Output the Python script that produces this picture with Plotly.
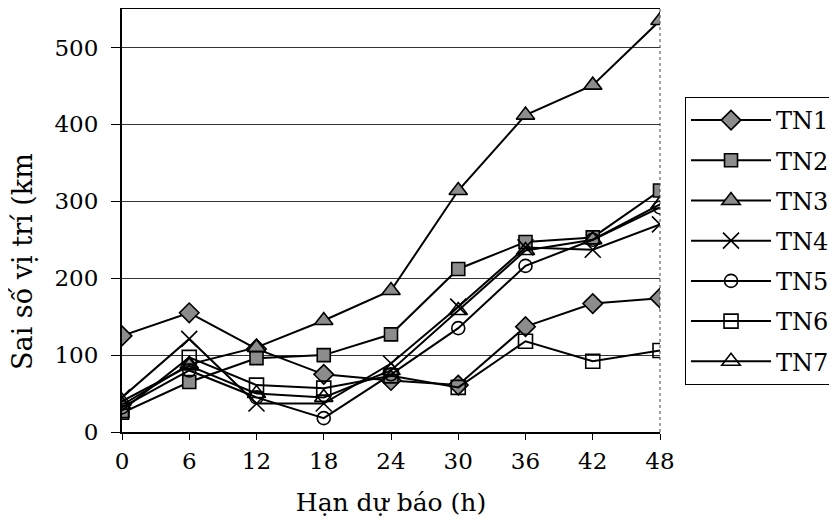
import plotly.graph_objects as go

hours = [0, 6, 12, 18, 24, 30, 36, 42, 48]
tick_labels = ["0", "6", "12", "18", "24", "30", "36", "42", "48"]
series_names = ["TN1", "TN2", "TN3", "TN4", "TN5", "TN6", "TN7"]
tn1 = [125, 155, 108, 75, 67, 61, 137, 167, 174]
tn2 = [25, 65, 96, 100, 127, 212, 247, 253, 314]
tn3 = [35, 88, 110, 145, 184, 314, 412, 451, 535]
tn4 = [45, 121, 37, 37, 89, 163, 240, 237, 270]
tn5 = [32, 80, 45, 18, 75, 135, 216, 250, 292]
tn6 = [28, 97, 61, 57, 73, 58, 118, 92, 106]
tn7 = [40, 86, 50, 45, 80, 158, 236, 250, 296]
values = [tn1, tn2, tn3, tn4, tn5, tn6, tn7]
x_title = "Hạn dự báo (h)"
y_title = "Sai số vị trí (km"

GRAY = "#8c8c8c"
styles = [
    dict(symbol="diamond", size=15, color=GRAY),
    dict(symbol="square", size=13, color=GRAY),
    dict(symbol="triangle-up", size=16, color=GRAY),
    dict(symbol="x-thin-open", size=16, color="black"),
    dict(symbol="circle-open", size=13, color="black"),
    dict(symbol="square-open", size=14, color="black"),
    dict(symbol="triangle-up-open", size=16, color="black"),
]

fig = go.Figure()
for name, vals, st in zip(series_names, values, styles):
    fig.add_trace(go.Scatter(
        x=hours, y=vals, name=name, mode="lines+markers",
        legendgroup=name,
        line=dict(color="black", width=2),
        marker=dict(symbol=st["symbol"], size=st["size"], color=st["color"],
                    line=dict(color="black", width=1.6)),
    ))

FONT = "DejaVu Serif"
fig.update_layout(
    width=821, height=510,
    margin=dict(l=114, r=169, t=1, b=86, autoexpand=False),
    paper_bgcolor="white", plot_bgcolor="white",
    font=dict(family=FONT, size=23, color="black"),
    showlegend=True,
    legend=dict(
        x=1.0465, y=0.792, xanchor="left", yanchor="top",
        bordercolor="black", borderwidth=1,
        font=dict(family=FONT, size=24, color="black"),
        tracegroupgap=6, itemwidth=80,
    ),
    xaxis=dict(
        range=[0, 48], tickvals=hours, ticktext=tick_labels,
        showgrid=False, zeroline=False, automargin=False,
        showline=True, linecolor="black", linewidth=1.5, mirror=True,
        ticks="outside", ticklen=6, tickcolor="black",
        ticklabelstandoff=2,
        title=dict(text=x_title, font=dict(family=FONT, size=25), standoff=20),
    ),
    yaxis=dict(
        range=[0, 550], tickvals=[0, 100, 200, 300, 400, 500],
        showgrid=True, gridcolor="#333333", gridwidth=1,
        zeroline=False, automargin=False,
        showline=True, linecolor="black", linewidth=2,
        ticks="outside", ticklen=9, tickcolor="black",
        ticklabelstandoff=8,
    ),
    annotations=[dict(
        text=y_title, xref="paper", yref="paper", x=-0.184, y=0.402,
        xanchor="center", yanchor="middle", textangle=-90, showarrow=False,
        font=dict(family=FONT, size=27, color="black"),
    )],
)
fig.add_shape(type="line", xref="paper", yref="paper", x0=1, x1=1, y0=0, y1=1,
              line=dict(color="#444444", width=1, dash="dot"))

fig.write_html("out.html")
